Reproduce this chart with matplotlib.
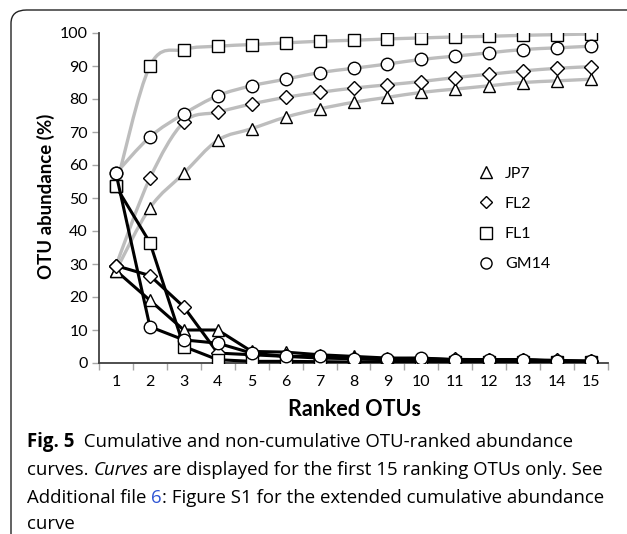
import numpy as np
import matplotlib
matplotlib.use('Agg')
import matplotlib.pyplot as plt
from matplotlib.path import Path
from matplotlib.patches import PathPatch, FancyBboxPatch

ranks = list(range(1, 16))
samples = ['JP7', 'FL2', 'FL1', 'GM14']
markers = {'JP7': '^', 'FL2': 'D', 'FL1': 's', 'GM14': 'o'}

# cumulative abundance (%)
cum_jp7 = [28, 47, 57.5, 67.5, 71, 74.5, 77, 79, 80.5, 82, 83, 84, 85, 85.5, 86]
cum_fl2 = [29.5, 56, 73, 76, 78.5, 80.5, 82, 83.3, 84.3, 85.3, 86.5, 87.5, 88.5, 89.3, 89.8]
cum_fl1 = [53.5, 90, 95, 96, 96.5, 97, 97.5, 97.8, 98.2, 98.5, 98.8, 99, 99.3, 99.5, 99.7]
cum_gm14 = [57.5, 68.5, 75.5, 81, 84, 86, 88, 89.3, 90.6, 92, 93, 94, 95, 95.5, 96]

# non-cumulative abundance (%)
abd_jp7 = [28, 19, 10, 10, 3.5, 3.3, 2.5, 2, 1.5, 1.5, 1, 1, 1, 0.6, 0.5]
abd_fl2 = [29.5, 26.5, 17, 3, 2.5, 2, 1.5, 1.3, 1, 1, 1.1, 1, 1, 0.8, 0.6]
abd_fl1 = [53.5, 36.5, 5, 1, 0.5, 0.5, 0.4, 0.3, 0.4, 0.3, 0.3, 0.2, 0.3, 0.2, 0.2]
abd_gm14 = [57.5, 11, 7, 6, 3, 2, 2, 1.3, 1.3, 1.4, 1, 1, 1, 0.5, 0.5]

cumulative = {'JP7': cum_jp7, 'FL2': cum_fl2, 'FL1': cum_fl1, 'GM14': cum_gm14}
abundance = {'JP7': abd_jp7, 'FL2': abd_fl2, 'FL1': abd_fl1, 'GM14': abd_gm14}


def smooth_path(x, y):
    # Catmull-Rom through the points, as cubic bezier segments (like Excel's smoothed line)
    pts = np.column_stack([np.asarray(x, float), np.asarray(y, float)])
    verts = [pts[0]]
    codes = [Path.MOVETO]
    n = len(pts)
    for i in range(n - 1):
        p0 = pts[max(i - 1, 0)]
        p1 = pts[i]
        p2 = pts[i + 1]
        p3 = pts[min(i + 2, n - 1)]
        verts += [p1 + (p2 - p0) / 6.0, p2 - (p3 - p1) / 6.0, p2]
        codes += [Path.CURVE4] * 3
    return Path(verts, codes)


def msize(s, big=9, small=7):
    return small if markers[s] == 'D' else big


fig = plt.figure(figsize=(6.27, 5.34), dpi=100)
plt.rcParams['font.family'] = ['Lato', 'DejaVu Sans']

# rounded frame round the figure (runs off the page right and bottom)
frame = FancyBboxPatch((11 / 627, -0.2), 1.2, 1.2 - 10 / 534,
                       boxstyle='round,pad=0,rounding_size=0.025',
                       transform=fig.transFigure, fill=False,
                       edgecolor='#222222', linewidth=1.0)
fig.patches.append(frame)

ax = fig.add_axes([99 / 627, 1 - 363 / 534, 509 / 627, 330 / 534])
ax.set_xlim(0.5, 15.5)
ax.set_ylim(0, 100)

gray = '#bdbdbd'
for s in samples:
    ax.add_patch(PathPatch(smooth_path(ranks, cumulative[s]), facecolor='none',
                           edgecolor=gray, linewidth=2.4, zorder=2))
for s in samples:
    ax.plot(ranks, cumulative[s], linestyle='none', marker=markers[s],
            markersize=msize(s), markerfacecolor='white',
            markeredgecolor='black', markeredgewidth=1.0, zorder=3)

for s in samples:
    ax.plot(ranks, abundance[s], color='black', linewidth=2.2,
            marker=markers[s], markersize=msize(s),
            markerfacecolor='white', markeredgecolor='black',
            markeredgewidth=1.0, zorder=4, label=s)

# legend: markers only
handles = [plt.Line2D([], [], linestyle='none', marker=markers[s],
                      markersize=msize(s, 8, 6), markerfacecolor='white',
                      markeredgecolor='black', markeredgewidth=1.0)
           for s in samples]
ax.legend(handles, samples, loc='upper left', bbox_to_anchor=(0.747, 0.595),
          frameon=False, fontsize=11.5, handlelength=0.8, handletextpad=0.8,
          labelspacing=1.0, borderpad=0, borderaxespad=0)

ax.set_yticks(range(0, 101, 10))
ax.set_xticks(ranks)
ax.set_xticks(np.arange(0.5, 15.6, 1), minor=True)
ax.tick_params(axis='x', which='major', length=0, labelsize=11.5, pad=9)
ax.tick_params(axis='x', which='minor', length=5, color='#a6a6a6', width=1)
ax.tick_params(axis='y', length=5, color='#a6a6a6', width=1, labelsize=11.5, pad=3)
for sp in ['top', 'right']:
    ax.spines[sp].set_visible(False)
for sp in ['left', 'bottom']:
    ax.spines[sp].set_color('#404040')
    ax.spines[sp].set_linewidth(1.3)

fig.text(46 / 627, 1 - 196 / 534, 'OTU abundance (%)', rotation=90,
         ha='center', va='center', fontsize=13.4, fontweight='bold')
fig.text(355 / 627, 1 - 410 / 534, 'Ranked OTUs', ha='center', va='center',
         fontsize=15.5, fontweight='bold')

# caption, built from runs of text
cap_font = ['Open Sans', 'DejaVu Sans']
cap_size = 13.4
caption_lines = [
    [('Fig. 5', 'bold', 'normal', 'black'),
     ('  Cumulative and non-cumulative OTU-ranked abundance', 'normal', 'normal', 'black')],
    [('curves. ', 'normal', 'normal', 'black'), ('Curves', 'normal', 'italic', 'black'),
     (' are displayed for the first 15 ranking OTUs only. See', 'normal', 'normal', 'black')],
    [('Additional file ', 'normal', 'normal', 'black'), ('6', 'normal', 'normal', '#2f55d4'),
     (': Figure S1 for the extended cumulative abundance', 'normal', 'normal', 'black')],
    [('curve', 'normal', 'normal', 'black')],
]
line_y = [442, 470, 498, 524]
for line, yy in zip(caption_lines, line_y):
    prev = None
    for txt, weight, style, color in line:
        kw = dict(fontsize=cap_size, fontweight=weight, fontstyle=style,
                  color=color, family=cap_font, va='center', ha='left')
        if prev is None:
            prev = fig.text(27 / 627, 1 - yy / 534, txt, **kw)
        else:
            prev = ax.annotate(txt, xy=(1, 0.5), xycoords=prev,
                               annotation_clip=False, **kw)

fig.savefig('out.png', dpi=100)
